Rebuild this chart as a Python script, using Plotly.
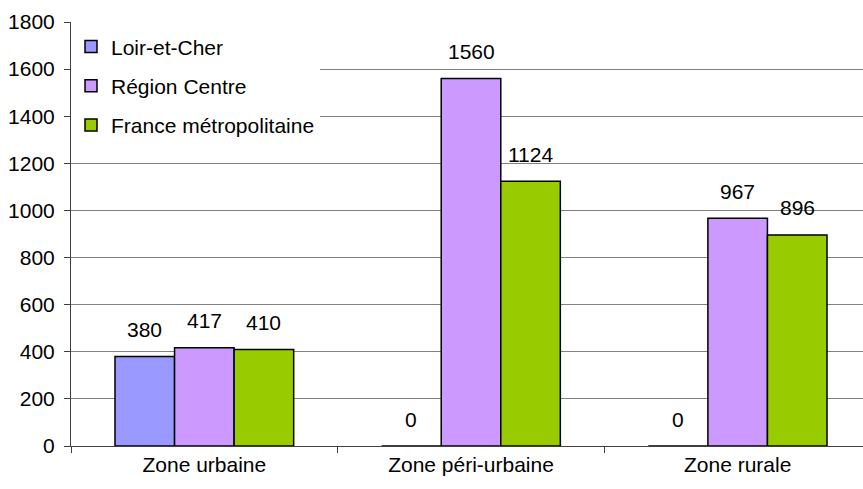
import plotly.graph_objects as go

categories = ["Zone urbaine", "Zone péri-urbaine", "Zone rurale"]
series_names = ["Loir-et-Cher", "Région Centre", "France métropolitaine"]
loir_et_cher = [380, 0, 0]
region_centre = [417, 1560, 967]
france_metro = [410, 1124, 896]
y_ticks = [0, 200, 400, 600, 800, 1000, 1200, 1400, 1600, 1800]

colors = ["#9999FF", "#CC99FF", "#99CC00"]
values = [loir_et_cher, region_centre, france_metro]

W, H = 863, 489
ml, mr, mt, mb = 71, 0, 22, 43
plot_w = W - ml - mr
x_range = [-0.5, 2.47]
group_w = plot_w / (x_range[1] - x_range[0])
bargap = 0.33
bar_w = group_w * (1 - bargap) / 3
FONT = "Liberation Sans, Arial, sans-serif"
FS = 21

fig = go.Figure()
for i, (name, vals, col) in enumerate(zip(series_names, values, colors)):
    fig.add_trace(go.Bar(
        x=categories, y=vals, name=name, legendgroup=name,
        marker=dict(color=col, line=dict(color="black", width=1.5)),
    ))
    for c, v in zip(categories, vals):
        fig.add_annotation(
            x=c, y=v, xref="x", yref="y", text=str(v), showarrow=False,
            xshift=(i - 1) * bar_w, yshift=27, yanchor="middle",
            font=dict(family=FONT, size=FS, color="black"),
        )

fig.update_layout(
    width=W, height=H,
    margin=dict(l=ml, r=mr, t=mt, b=mb, pad=0),
    paper_bgcolor="white", plot_bgcolor="white",
    barmode="group", bargap=bargap, bargroupgap=0,
    font=dict(family=FONT, size=FS, color="black"),
    showlegend=True,
    legend=dict(
        x=0.0, y=0.99, xanchor="left", yanchor="top",
        bgcolor="white", borderwidth=0,
        font=dict(size=FS), tracegroupgap=9,
    ),
    xaxis=dict(
        range=x_range,
        showline=True, linecolor="#404040", linewidth=1,
        ticks="outside", tickson="boundaries", ticklen=6, tickcolor="#404040",
        showgrid=False, tickfont=dict(size=FS),
    ),
    yaxis=dict(
        range=[0, 1800], tickvals=y_ticks,
        showline=True, linecolor="#404040", linewidth=1,
        ticks="outside", ticklen=6, tickcolor="#404040",
        ticklabelstandoff=5,
        showgrid=True, gridcolor="#808080", gridwidth=1,
        zeroline=False, tickfont=dict(size=FS),
    ),
)

fig.write_html(
    "out.html",
    config={"displayModeBar": False},
    post_script="document.body.style.margin='0';document.body.style.overflow='hidden';",
)
